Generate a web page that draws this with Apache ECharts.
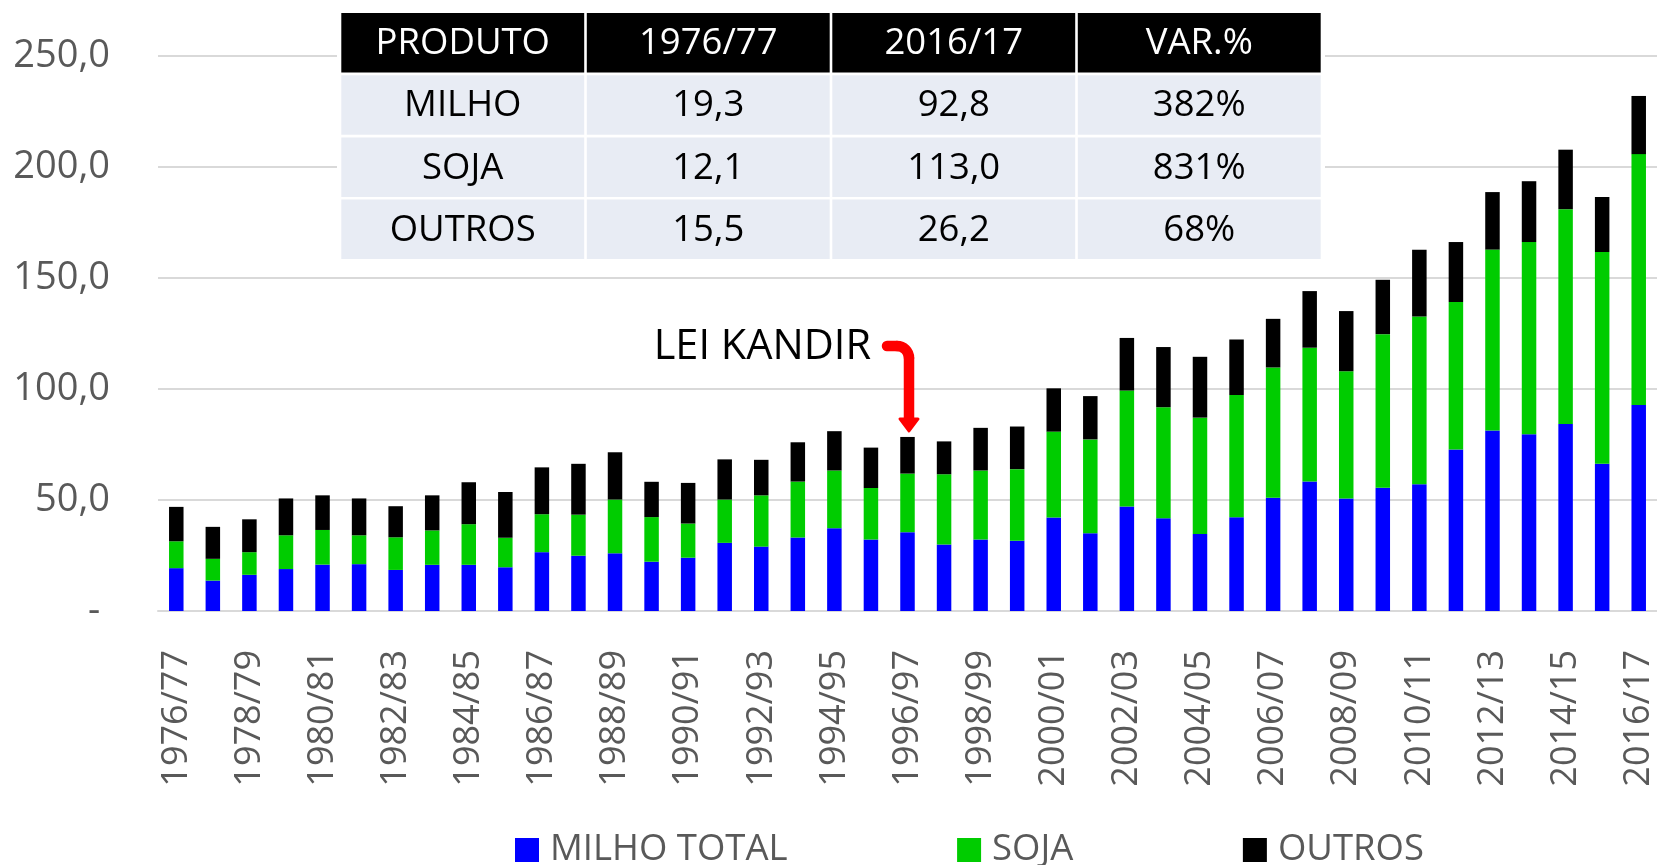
<!DOCTYPE html>
<html>
<head>
<meta charset="utf-8">
<script src="https://cdn.jsdelivr.net/npm/echarts/dist/echarts.min.js"></script>
<style>
  body { margin: 0; background: #ffffff; }
  #chartsb { width: 1657px; height: 865px; }
</style>
</head>
<body>
<div id="chartsb"></div>
<script>
// safras 1976/77 - 2016/17, milhoes de toneladas
var safras = ['1976/77','1977/78','1978/79','1979/80','1980/81','1981/82','1982/83','1983/84','1984/85','1985/86',
  '1986/87','1987/88','1988/89','1989/90','1990/91','1991/92','1992/93','1993/94','1994/95','1995/96',
  '1996/97','1997/98','1998/99','1999/00','2000/01','2001/02','2002/03','2003/04','2004/05','2005/06',
  '2006/07','2007/08','2008/09','2009/10','2010/11','2011/12','2012/13','2013/14','2014/15','2015/16','2016/17'];
var milho = [19.3, 13.7, 16.3, 18.9, 20.9, 21.1, 18.5, 20.8, 20.8, 19.7, 26.5, 24.9, 26.0, 22.2, 24.0, 30.7, 29.0, 33.1, 37.3, 32.2,
  35.5, 29.9, 32.2, 31.6, 42.1, 35.0, 47.1, 41.8, 34.7, 42.2, 51.0, 58.3, 50.7, 55.5, 57.1, 72.7, 81.3, 79.6, 84.2, 66.3, 92.8];
var soja = [12.1, 9.8, 10.2, 15.2, 15.6, 13.0, 14.7, 15.5, 18.3, 13.3, 17.1, 18.5, 24.2, 20.1, 15.4, 19.5, 23.1, 25.2, 26.0, 23.2,
  26.4, 31.7, 31.1, 32.3, 38.7, 42.3, 52.2, 50.0, 52.4, 55.1, 58.7, 60.3, 57.3, 69.2, 75.6, 66.5, 81.5, 86.6, 96.8, 95.4, 113.0];
var outros = [15.5, 14.4, 14.8, 16.6, 15.6, 16.6, 14.0, 15.8, 18.9, 20.6, 21.1, 22.9, 21.3, 15.9, 18.3, 18.1, 16.0, 17.7, 17.7, 18.2,
  16.5, 14.8, 19.2, 19.2, 19.5, 19.5, 23.7, 27.1, 27.4, 25.0, 21.9, 25.5, 27.1, 24.5, 30.0, 27.0, 25.9, 27.4, 26.8, 24.8, 26.2];

// tabela do canto
var tabelaCab = ['PRODUTO', '1976/77', '2016/17', 'VAR.%'];
var tabelaLinhas = [
  ['MILHO', '19,3', '92,8', '382%'],
  ['SOJA', '12,1', '113,0', '831%'],
  ['OUTROS', '15,5', '26,2', '68%']
];
var marco = '1996/97';   // lei kandir

var fonte = 'Open Sans';
var cinza = '#595959';

var myChart = echarts.init(document.getElementById('chartsb'));

// monta a tabela como graphic
var tab = [];
var tx = 340, ty = 13, colW = 245.5, rowH = 59.5, gap = 2.7;
tab.push({ type: 'rect', shape: { x: tx - 3, y: ty - 3, width: colW * 4 + 6, height: rowH * 4 + gap * 3 + 6 }, style: { fill: '#ffffff' }, z: 50 });
var linhas = [tabelaCab].concat(tabelaLinhas);
linhas.forEach(function (lin, r) {
  lin.forEach(function (txt, c) {
    var x = tx + c * colW, y = ty + r * (rowH + gap);
    tab.push({ type: 'rect', shape: { x: x + 1.3, y: y, width: colW - 2.6, height: rowH },
      style: { fill: r === 0 ? '#000000' : '#E8ECF4' }, z: 51 });
    tab.push({ type: 'text', x: x + colW / 2, y: y + rowH / 2 + 1, z: 52,
      style: { text: txt, fill: r === 0 ? '#ffffff' : '#000000', font: '36.5px "' + fonte + '"', align: 'center', verticalAlign: 'middle' } });
  });
});

var option = {
  animation: false,
  textStyle: { fontFamily: fonte },
  grid: { left: 158, top: 56, width: 1505, height: 555 },
  legend: {
    left: 515, top: 830, padding: 0,
    itemWidth: 24, itemHeight: 24, itemGap: 169.5,
    icon: 'rect',
    textStyle: { color: cinza, fontSize: 36.5, fontFamily: fonte, lineHeight: 40, padding: [0, 0, 0, 6] },
    data: ['MILHO TOTAL', 'SOJA', 'OUTROS']
  },
  xAxis: {
    type: 'category',
    data: safras,
    axisTick: { show: false },
    axisLine: { lineStyle: { color: '#D9D9D9', width: 2 } },
    axisLabel: { interval: 1, rotate: 90, margin: 39, color: cinza, fontSize: 36, fontFamily: fonte }
  },
  yAxis: {
    type: 'value',
    min: 0, max: 250, interval: 50,
    axisLine: { show: false },
    axisTick: { show: false },
    splitLine: { lineStyle: { color: '#D9D9D9', width: 2 } },
    axisLabel: {
      margin: 48, color: cinza, fontSize: 38, fontFamily: fonte,
      formatter: function (v) { return v === 0 ? '- ' : v.toFixed(1).replace('.', ','); }
    }
  },
  series: [
    { name: 'MILHO TOTAL', type: 'bar', stack: 'graos', barWidth: 14.5, itemStyle: { color: '#0000FF' }, data: milho },
    { name: 'SOJA', type: 'bar', stack: 'graos', barWidth: 14.5, itemStyle: { color: '#00CC00' }, data: soja },
    { name: 'OUTROS', type: 'bar', stack: 'graos', barWidth: 14.5, itemStyle: { color: '#000000' }, data: outros }
  ],
  graphic: tab
};
myChart.setOption(option);

// seta vermelha da lei kandir, presa ao topo da barra
var i = safras.indexOf(marco);
var topo = myChart.convertToPixel({ gridIndex: 0 }, [marco, milho[i] + soja[i] + outros[i]]);
var ax = topo[0] + 1.5, ay = topo[1] - 5;
var hy = ay - 86, r = 12;
var vermelho = { stroke: '#FF0000', lineWidth: 10.5, fill: null, lineCap: 'round' };
myChart.setOption({
  graphic: tab.concat([
    { type: 'line', z: 60, shape: { x1: ax - 22, y1: hy, x2: ax - r, y2: hy }, style: vermelho },
    { type: 'arc', z: 60, shape: { cx: ax - r, cy: hy + r, r: r, startAngle: -Math.PI / 2, endAngle: 0, clockwise: true }, style: vermelho },
    { type: 'line', z: 60, shape: { x1: ax, y1: hy + r, x2: ax, y2: ay - 12 }, style: vermelho },
    { type: 'polygon', z: 60,
      shape: { points: [[ax - 9, ay - 13], [ax + 9, ay - 13], [ax, ay - 1]] },
      style: { fill: '#FF0000', stroke: '#FF0000', lineWidth: 3, lineJoin: 'round' } },
    { type: 'text', z: 60, x: ax - 38, y: hy + 1,
      style: { text: 'LEI KANDIR', fill: '#000000', font: '41.5px "' + fonte + '"', align: 'right', verticalAlign: 'middle' } }
  ])
});
</script>
</body>
</html>
